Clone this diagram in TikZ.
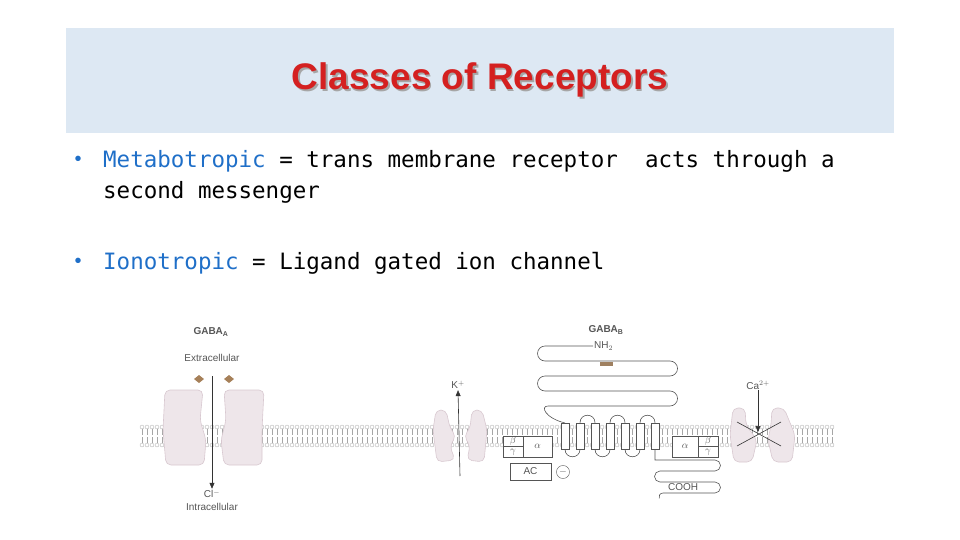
\documentclass[tikz,border=0pt]{standalone}
\usepackage{fontspec}
\setmainfont{Liberation Sans}
\newfontfamily\bodyfont{DejaVu Sans Mono}
\usetikzlibrary{arrows.meta}
\definecolor{hdrblue}{HTML}{DDE8F3}
\definecolor{titlered}{HTML}{D42020}
\definecolor{bulblue}{HTML}{1F6FC8}
\definecolor{blob}{HTML}{EEE6EA}
\definecolor{bloblin}{HTML}{D8C8D0}
\definecolor{ink}{HTML}{555555}
\tikzset{
  bodytxt/.style={font=\bodyfont\fontsize{22.5}{24}\selectfont, anchor=west, inner sep=0},
  lab/.style={font=\fontsize{10}{11}\selectfont, text=ink, inner sep=1pt},
  chan/.style={fill=blob, draw=bloblin, line width=0.6pt, rounded corners=5pt},
  box/.style={draw=ink, fill=white, line width=0.5pt},
  tm/.style={draw=ink, fill=white, line width=0.5pt, minimum width=8pt, minimum height=26pt, inner sep=0},
  chain/.style={draw=ink, line width=0.6pt},
  flow/.style={draw=black!80, line width=0.6pt, -{Triangle[length=6pt,width=5pt]}}
}
\begin{document}
\begin{tikzpicture}[x=1pt,y=-1pt]
    \useasboundingbox (0,0) rectangle (960,540);
    % header
    \fill[hdrblue] (66,28) rectangle (894,133);
    \node (ttlsh) at (481.5,81.5) [font=\bfseries\fontsize{37}{40}\selectfont, text=black!35] {Classes of Receptors};
    \node (ttl) at (480,80) [font=\bfseries\fontsize{37}{40}\selectfont, text=titlered] {Classes of Receptors};

    % bullets
    \node (b1) at (78,161) [text=bulblue, font=\fontsize{20}{22}\selectfont] {\textbullet};
    \node (meta) at (103,161) [bodytxt] {\textcolor{bulblue}{Metabotropic} = trans membrane receptor\ \ acts through a};
    \node (meta2) at (103,192) [bodytxt] {second messenger};
    \node (b2) at (78,263) [text=bulblue, font=\fontsize{20}{22}\selectfont] {\textbullet};
    \node (iono) at (103,263) [bodytxt] {\textcolor{bulblue}{Ionotropic} = Ligand gated ion channel};

    % membrane
    \foreach \x in {142,147,...,834} {
        \draw[black!35, line width=0.3pt] (\x,428) -- (\x,435) (\x,437) -- (\x,444);
        \draw[black!35, line width=0.3pt, fill=white] (\x,427) circle (2) (\x,445) circle (2);
    }

    % GABA_A channel
    \draw[chan] (165,390) -- (203,390) -- (200,420) -- (206,440) -- (204,465) -- (166,465) -- (163,430) -- cycle;
    \draw[chan] (224,390) -- (264,390) -- (262,430) -- (262,465) -- (224,465) -- (221,440) -- (226,420) -- cycle;
    \fill[brown!60!gray] (199,375) -- (204,379) -- (199,383) -- (194,379) -- cycle;
    \fill[brown!60!gray] (229,375) -- (234,379) -- (229,383) -- (224,379) -- cycle;
    \node (gabaa) at (211,332) [lab, font=\bfseries\fontsize{10}{11}\selectfont] {GABA\textsubscript{A}};
    \node (extra) at (212,358) [lab] {Extracellular};
    \coordinate (clin) at (212,376);
    \node (cl) at (212,494) [lab] {Cl$^-$};
    \node (intra) at (212,507) [lab] {Intracellular};
    \draw[flow] (clin) -- (cl.north);

    % K channel
    \draw[chan] (436,410) -- (446,410) -- (450,428) -- (456,436) -- (450,446) -- (455,460) -- (437,462) -- (433,430) -- cycle;
    \draw[chan] (472,410) -- (482,410) -- (487,430) -- (484,462) -- (467,460) -- (470,446) -- (464,436) -- (470,428) -- cycle;
    \node (kion) at (458,385) [lab] {K$^+$};
    \coordinate (kout) at (460,476);
    \draw[flow] (kout) -- (kion.south);

    % left G protein and AC
    \draw[box] (503,436) rectangle (523,457);
    \draw[box] (523,436) rectangle (552,457);
    \draw[ink, line width=0.4pt] (503,446.5) -- (523,446.5);
    \node (bl) at (513,441) [lab] {$\beta$};
    \node (gl) at (513,452) [lab] {$\gamma$};
    \node (al) at (537.5,446.5) [lab] {$\alpha$};
    \node (ac) at (530.5,471.5) [box, minimum width=41pt, minimum height=17pt, lab] {AC};
    \node (inh) at (563,472) [draw=ink, circle, inner sep=0, minimum size=8pt, lab] {$-$};

    % GABA_B receptor
    \node (gabab) at (606,330) [lab, font=\bfseries\fontsize{10}{11}\selectfont] {GABA\textsubscript{B}};
    \node (nh2) at (593,346) [lab, anchor=west] {NH$_2$};
    \draw[chain] (nh2.west) -- (545,346) arc[start angle=270, end angle=90, radius=7.5]
        -- (670,361) arc[start angle=-90, end angle=90, radius=7.5]
        -- (545,376) arc[start angle=270, end angle=90, radius=7.5]
        -- (670,391) arc[start angle=-90, end angle=90, radius=7.5]
        -- (548,406) .. controls (540,406) and (545,418) .. (565,423);
    \fill[brown!50!gray] (600,362) rectangle (613,366);
    \foreach \i in {1,...,7} {
        \node (tm\i) at (550+15*\i,436) [tm] {};
    }
    \foreach \a/\b in {tm2/tm3,tm4/tm5,tm6/tm7} {
        \draw[chain] (\a.north) .. controls +(0,-10) and +(0,-10) .. (\b.north);
    }
    \foreach \a/\b in {tm1/tm2,tm3/tm4,tm5/tm6} {
        \draw[chain] (\a.south) .. controls +(0,10) and +(0,10) .. (\b.south);
    }
    \node (cooh) at (667,487) [lab, anchor=west] {COOH};
    \draw[chain] (tm7.south) -- (655,460) -- (715,460) arc[start angle=-90, end angle=90, radius=5.5]
        -- (660,471) arc[start angle=270, end angle=90, radius=5.5]
        -- (715,482) arc[start angle=-90, end angle=90, radius=5.5]
        -- (663,493) arc[start angle=270, end angle=160, radius=4];

    % right G protein
    \draw[box] (672,436) rectangle (698,457);
    \draw[box] (698,436) rectangle (718,457);
    \draw[ink, line width=0.4pt] (698,446.5) -- (718,446.5);
    \node (ar) at (685,446.5) [lab] {$\alpha$};
    \node (br) at (708,441) [lab] {$\beta$};
    \node (gr) at (708,452) [lab] {$\gamma$};

    % Ca channel
    \draw[chan] (733,408) -- (745,408) -- (746,425) -- (757,440) -- (752,462) -- (734,462) -- (730,435) -- cycle;
    \draw[chan] (772,408) -- (784,408) -- (795,435) -- (792,462) -- (773,462) -- (768,440) -- (771,425) -- cycle;
    \node (ca) at (758,385) [lab] {Ca$^{2+}$};
    \coordinate (cablk) at (758,432);
    \draw[flow] (ca.south) -- (cablk);
    \draw[black!80, line width=0.6pt] (737,422) -- (781,446) (737,446) -- (781,422);
\end{tikzpicture}
\end{document}
